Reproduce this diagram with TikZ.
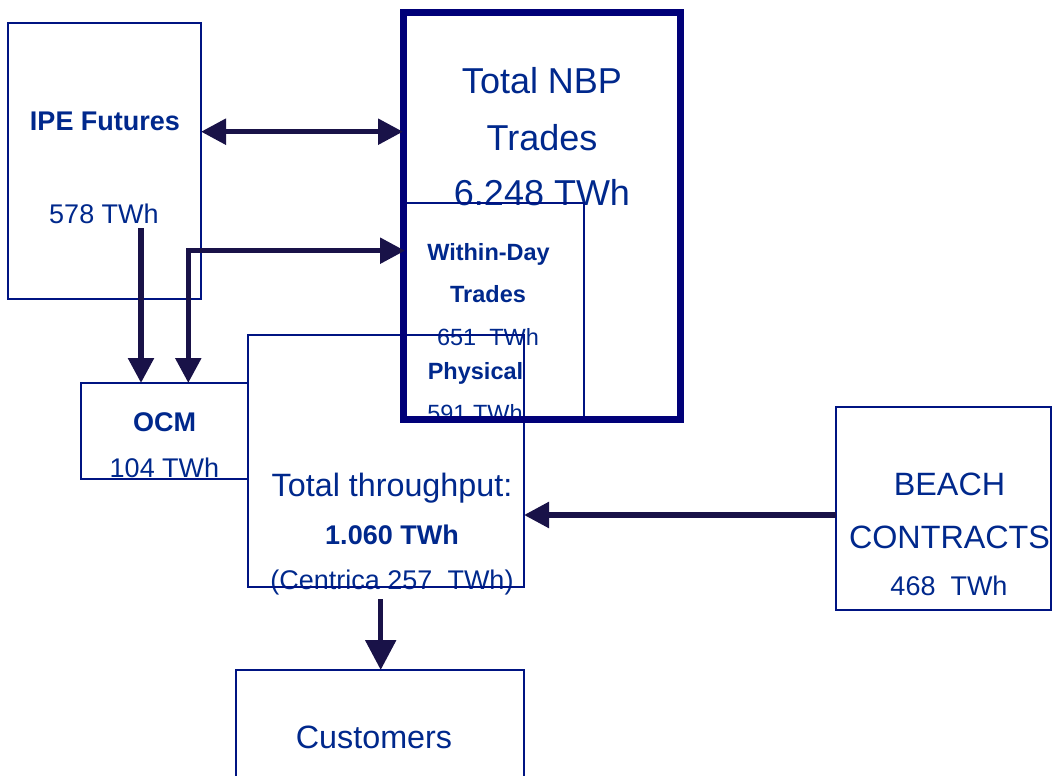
\documentclass[tikz,border=0pt]{standalone}
\usepackage{fontspec}
\setmainfont{Liberation Sans}
\usetikzlibrary{arrows.meta}
\definecolor{textblue}{RGB}{0,40,140}
\definecolor{boxblue}{RGB}{0,20,130}
\definecolor{navyline}{RGB}{0,0,120}
\definecolor{arrowc}{RGB}{25,18,72}
\tikzset{
  box/.style={draw=boxblue, line width=2pt, rectangle, inner sep=0pt, outer sep=0pt},
  txt/.style={anchor=base, inner sep=0pt, outer sep=0pt, text=textblue},
  fA/.style={font=\fontsize{36}{40}\selectfont},
  fB/.style={font=\fontsize{32.3}{36}\selectfont},
  fC/.style={font=\fontsize{27}{31}\selectfont},
  fCb/.style={font=\fontsize{27}{31}\selectfont\bfseries},
  fD/.style={font=\fontsize{23.5}{27}\selectfont},
  fDb/.style={font=\fontsize{23.5}{27}\selectfont\bfseries},
  arr/.style={draw=arrowc, line width=5.5pt},
  tip/.tip={Triangle[length=25pt,width=25pt]},
  bigtip/.tip={Triangle[length=30pt,width=30pt]}
}
\begin{document}
\begin{tikzpicture}[x=1pt,y=-1pt]
\useasboundingbox (0,0) rectangle (1052,776);
\clip (0,0) rectangle (1052,776);
% texts
\node[txt,fCb] (t1) at (105,130) {IPE Futures};
\node[txt,fC] (t2) at (104,223) {578 TWh};
\node[txt,fA] (t3) at (542,93) {Total NBP};
\node[txt,fA] (t4) at (542,150) {Trades};
\node[txt,fA] (t5) at (542,205) {6.248 TWh};
\node[txt,fDb] (t6) at (488.5,260.7) {Within-Day};
\node[txt,fDb] (t7) at (488,302.7) {Trades};
\node[txt,fD] (t8) at (488,345) {651\ \ TWh};
\node[txt,fDb] (t9) at (475.5,379.3) {Physical};
\node[txt,fD] (t10) at (475,421) {591 TWh};
\node[txt,fCb] (t11) at (164.5,431) {OCM};
\node[txt,fC] (t12) at (164.5,477) {104 TWh};
\node[txt,fB] (t13) at (392,496) {Total throughput:};
\node[txt,fCb] (t14) at (392,544) {1.060 TWh};
\node[txt,fC] (t15) at (392,589) {(Centrica 257\ \ TWh)};
\node[txt,fB] (t16) at (949.5,495) {BEACH};
\node[txt,fB] (t17) at (949.5,548) {CONTRACTS};
\node[txt,fC] (t18) at (949,595) {468\ \ TWh};
\node[txt,fB] (t19) at (374,748) {Customers};
% boxes
\node[box, minimum width=192.7pt, minimum height=276pt] (ipe) at (104.65,161.3) {};
\node[box, minimum width=179pt, minimum height=213.7pt] (wd) at (494.5,310.15) {};
\node[box, minimum width=167pt, minimum height=96pt] (ocm) at (164.5,431) {};
\node[box, minimum width=275.7pt, minimum height=251.7pt] (thr) at (386.15,460.85) {};
\node[box, minimum width=215.2pt, minimum height=203pt] (beach) at (943.1,508.5) {};
\node[box, minimum width=288pt, minimum height=120pt] (cust) at (380,730) {};
\node[box, draw=navyline, line width=7pt, minimum width=277pt, minimum height=406pt] (nbp) at (541.5,216) {};
% connectors
\coordinate (ipeout) at (141,228);
\coordinate (lcol) at (188.3,250.7);
\coordinate (throut) at (380.7,599);
\draw[arr,{tip}-{tip}] (ipe.east |- 0,131.7) -- (nbp.west |- 0,131.7);
\draw[arr,-{tip}] (ipeout) -- (ocm.north -| ipeout);
\draw[arr,{tip}-{tip}] (ocm.north -| lcol) |- (wd.west |- lcol);
\draw[arr,-{tip}] (beach.west |- 0,515) -- (thr.east |- 0,515);
\draw[arr,-{bigtip}] (throut) -- (cust.north -| throut);
\end{tikzpicture}
\end{document}
